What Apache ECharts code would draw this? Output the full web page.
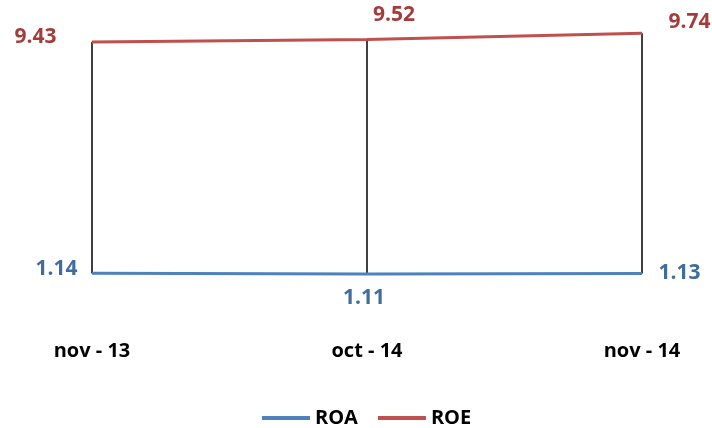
<!DOCTYPE html>
<html><head><meta charset="utf-8">
<script src="https://cdn.jsdelivr.net/npm/echarts@6/dist/echarts.min.js"></script>
<style>html,body{margin:0;padding:0;background:#fff}#c{width:712px;height:428px}</style>
</head><body><div id="c"></div>
<script>
const categories = ['nov - 13', 'oct - 14', 'nov - 14'];
const roa = [1.14, 1.11, 1.13];
const roe = [9.43, 9.52, 9.74];

const font = '"Open Sans", sans-serif';
const roeLabelPos = [
  {position: 'left', distance: 35, offset: [0, -5]},
  {position: 'top', distance: 14, offset: [27, 1]},
  {position: 'right', distance: 26, offset: [0, -11]}
];
const roaLabelPos = [
  {position: 'left', distance: 14, offset: [0, -4]},
  {position: 'bottom', distance: 12, offset: [-3, 1]},
  {position: 'right', distance: 16, offset: [0, 0]}
];

const chart = echarts.init(document.getElementById('c'));
chart.setOption({
  animation: false,
  grid: {left: 92, right: 70, top: 26, bottom: 123},
  xAxis: {
    type: 'category', data: categories, boundaryGap: false,
    axisLine: {show: false}, axisTick: {show: false}, splitLine: {show: false},
    axisLabel: {margin: 36, color: '#000', fontWeight: 'bold', fontSize: 20, fontFamily: font}
  },
  yAxis: {type: 'value', min: 0, max: 10, show: false},
  legend: {
    data: ['ROA', 'ROE'], top: 403, left: 257,
    icon: 'rect', itemWidth: 48, itemHeight: 4, itemGap: 20,
    textStyle: {fontWeight: 'bold', fontSize: 20, fontFamily: font, color: '#000'}
  },
  series: [
    {
      type: 'custom', name: 'hilo', silent: true, z: 1,
      data: categories.map((c, i) => [i, roa[i], roe[i]]),
      renderItem: function (params, api) {
        const p1 = api.coord([api.value(0), api.value(1)]);
        const p2 = api.coord([api.value(0), api.value(2)]);
        return {type: 'line', shape: {x1: p1[0], y1: p1[1], x2: p2[0], y2: p2[1]},
          style: {stroke: '#000', lineWidth: 1.5}};
      }
    },
    {
      type: 'line', name: 'ROA', symbol: 'circle', symbolSize: 1, showSymbol: true, z: 3,
      lineStyle: {color: '#4F81BD', width: 3}, itemStyle: {color: '#4F81BD'},
      data: roa.map((v, i) => ({value: v, label: Object.assign({show: true}, roaLabelPos[i])})),
      label: {show: true, color: '#3F6D9F', fontWeight: 'bold', fontSize: 21, fontFamily: font}
    },
    {
      type: 'line', name: 'ROE', symbol: 'circle', symbolSize: 1, showSymbol: true, z: 3,
      lineStyle: {color: '#C0504D', width: 3}, itemStyle: {color: '#C0504D'},
      data: roe.map((v, i) => ({value: v, label: Object.assign({show: true}, roeLabelPos[i])})),
      label: {show: true, color: '#A33C3A', fontWeight: 'bold', fontSize: 21, fontFamily: font}
    }
  ]
});
</script></body></html>
